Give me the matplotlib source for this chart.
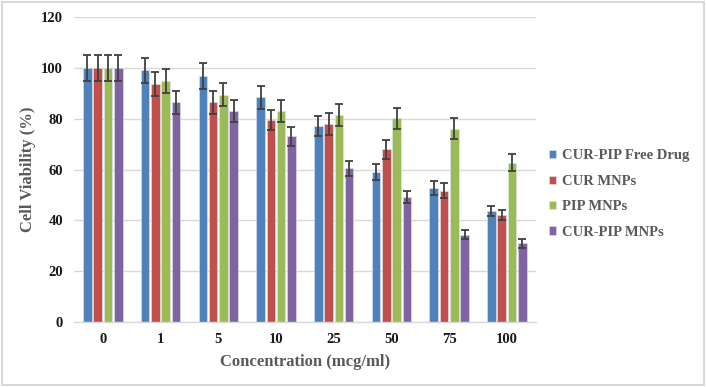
import matplotlib.pyplot as plt
import numpy as np
from matplotlib.patches import Rectangle

concentrations = ["0", "1", "5", "10", "25", "50", "75", "100"]
series_names = ["CUR-PIP Free Drug", "CUR MNPs", "PIP MNPs", "CUR-PIP MNPs"]

free_drug = [100, 99.2, 96.9, 88.5, 77.3, 59.1, 52.8, 43.8]
cur_mnps = [100, 93.7, 86.5, 79.5, 78.0, 68.0, 51.8, 42.1]
pip_mnps = [100, 94.9, 89.6, 83.1, 81.5, 80.2, 76.1, 62.7]
curpip_mnps = [100, 86.5, 83.1, 73.2, 60.5, 49.1, 34.4, 31.0]

free_drug_err = [5, 5, 5, 4.5, 3.9, 3.0, 2.7, 2.0]
cur_mnps_err = [5, 4.6, 4.4, 4.0, 4.3, 3.7, 2.9, 2.1]
pip_mnps_err = [5, 4.8, 4.4, 4.4, 4.2, 4.0, 4.1, 3.3]
curpip_mnps_err = [5, 4.4, 4.3, 3.8, 3.0, 2.4, 1.8, 1.8]

values = [free_drug, cur_mnps, pip_mnps, curpip_mnps]
errors = [free_drug_err, cur_mnps_err, pip_mnps_err, curpip_mnps_err]
colors = ["#4F81BD", "#C0504D", "#9BBB59", "#8064A2"]

serif = ["Liberation Serif", "DejaVu Serif"]

fig = plt.figure(figsize=(7.06, 3.87), dpi=100)
ax = fig.add_axes([0.1048, 0.168, 0.654, 0.787])

x = np.arange(len(concentrations))
step = 0.178
for i, (vals, errs, c, name) in enumerate(zip(values, errors, colors, series_names)):
    pos = x + (i - 1.5) * step
    ax.bar(pos, vals, width=0.148, color=c, edgecolor="#dfe6f0", linewidth=0.4,
           label=name, zorder=2)
    ax.errorbar(pos, vals, yerr=errs, fmt="none", ecolor="#404040",
                elinewidth=1.3, capsize=3, capthick=1.3, zorder=3)

ax.set_xlim(-0.5, len(concentrations) - 0.5)
ax.set_ylim(0, 120)
ax.set_yticks(range(0, 121, 20))
ax.set_xticks(x)
ax.set_xticklabels(concentrations)
ax.grid(axis="y", color="#d9d9d9", linewidth=1, zorder=0)
ax.set_axisbelow(True)
for s in ["top", "right", "left"]:
    ax.spines[s].set_visible(False)
ax.spines["bottom"].set_color("#d9d9d9")
ax.spines["bottom"].set_linewidth(1)
ax.tick_params(length=0, pad=8)
for lab in ax.get_xticklabels() + ax.get_yticklabels():
    lab.set_fontfamily(serif)
    lab.set_fontweight("bold")
    lab.set_fontsize(10.5)
    lab.set_color("#1a1a1a")

ax.set_xlabel("Concentration (mcg/ml)", family=serif, fontweight="bold",
              fontsize=12, color="#595959", labelpad=6)
ax.set_ylabel("Cell Viability (%)", family=serif, fontweight="bold",
              fontsize=12, color="#595959", labelpad=0)
ax.yaxis.set_label_coords(-0.082, 0.5)

leg = ax.legend(loc="center left", bbox_to_anchor=(1.0, 0.42), frameon=False,
                handlelength=0.5, handleheight=0.5, handletextpad=0.4,
                labelspacing=0.85,
                prop={"family": serif, "weight": "bold", "size": 10.5})
for t in leg.get_texts():
    t.set_color("#595959")

fig.patches.append(Rectangle((0.003, 0.005), 0.994, 0.99, transform=fig.transFigure,
                             fill=False, edgecolor="#d9d9d9", linewidth=1.5))

fig.savefig("out.png", dpi=100)
